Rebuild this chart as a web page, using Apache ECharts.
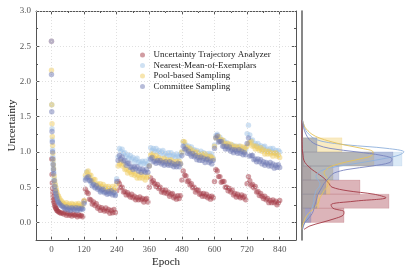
<!DOCTYPE html>
<html><head><meta charset="utf-8">
<script src="https://cdn.jsdelivr.net/npm/echarts@6/dist/echarts.min.js"></script>
<style>html,body{margin:0;padding:0;background:#fff}#c{width:415px;height:273px}</style>
</head><body><div id="c"></div>
<script>
const seriesNames = ['Uncertainty Trajectory Analyzer','Nearest-Mean-of-Exemplars','Pool-based Sampling','Committee Sampling'];
const epochs = [0,1,2,3,4,5,6,7,8,10,12,14,16,18,20,23,26,30,35,40,45,50,55,60,65,70,75,80,85,90,95,100,105,110,115,
120,125,130,135,140,145,150,155,160,165,170,175,180,185,190,195,200,205,210,215,220,225,230,235,
240,245,250,255,260,265,270,275,280,285,290,295,300,305,310,315,320,325,330,335,340,345,350,355,
360,365,370,375,380,385,390,395,400,405,410,415,420,425,430,435,440,445,450,455,460,465,470,475,
480,485,490,495,500,505,510,515,520,525,530,535,540,545,550,555,560,565,570,575,580,585,590,595,
600,605,610,615,620,625,630,635,640,645,650,655,660,665,670,675,680,685,690,695,700,705,710,715,
720,725,730,735,740,745,750,755,760,765,770,775,780,785,790,795,800,805,810,815,820,825,830,835,840];
const uta = [2.57,0.90,0.68,0.56,0.48,0.42,0.37,0.33,0.30,0.27,0.24,0.22,0.20,0.19,0.17,0.16,0.15,0.14,0.13,0.135,0.12,0.14,0.10,0.13,0.10,0.12,0.09,0.12,0.10,0.11,0.08,0.11,0.09,0.10,0.08,
0.30,0.47,0.43,0.41,0.33,0.32,0.26,0.29,0.24,0.265,0.20,0.22,0.17,0.21,0.185,0.16,0.205,0.16,0.185,0.13,0.17,0.135,0.185,0.14,
0.45,0.58,0.55,0.49,0.50,0.43,0.44,0.39,0.42,0.39,0.36,0.40,0.35,0.37,0.32,0.35,0.32,0.36,0.32,0.34,0.29,0.325,0.34,0.29,
0.50,0.63,0.57,0.59,0.55,0.51,0.54,0.48,0.50,0.43,0.46,0.42,0.46,0.41,0.43,0.37,0.40,0.41,0.35,0.37,0.33,0.38,0.34,0.38,
0.60,0.73,0.67,0.66,0.58,0.59,0.53,0.55,0.49,0.50,0.43,0.46,0.46,0.40,0.41,0.37,0.41,0.37,0.40,0.35,0.37,0.33,0.37,0.35,
0.58,0.75,0.73,0.65,0.65,0.57,0.58,0.58,0.50,0.50,0.45,0.48,0.43,0.46,0.39,0.41,0.36,0.40,0.37,0.35,0.39,0.35,0.37,0.32,
0.55,0.65,0.59,0.52,0.54,0.49,0.51,0.43,0.44,0.38,0.41,0.37,0.34,0.37,0.32,0.34,0.28,0.31,0.28,0.32,0.28,0.30,0.25,0.28,0.31];
const nme = [2.57,1.67,1.33,1.17,1.03,0.93,0.85,0.78,0.72,0.62,0.55,0.49,0.44,0.40,0.37,0.33,0.31,0.28,0.27,0.25,0.24,0.22,0.20,0.23,0.21,0.19,0.22,0.20,0.23,0.21,0.19,0.22,0.20,0.22,0.19,
0.29,0.63,0.72,0.64,0.64,0.57,0.59,0.55,0.51,0.54,0.49,0.51,0.45,0.48,0.44,0.49,0.44,0.47,0.41,0.45,0.47,0.42,0.43,0.40,
0.62,0.93,1.05,1.01,1.04,0.98,0.99,0.93,0.96,0.91,0.95,0.90,0.92,0.86,0.89,0.91,0.85,0.86,0.83,0.87,0.84,0.87,0.82,0.84,
0.90,1.06,1.02,1.05,1.01,1.05,1.00,1.02,0.97,1.00,1.02,0.96,0.98,0.94,0.99,0.95,0.99,0.94,0.96,0.92,0.97,0.94,0.92,0.97,
1.00,1.14,1.10,1.10,1.05,1.08,1.04,1.07,1.01,1.03,0.98,1.02,0.99,0.97,1.01,0.96,0.99,0.93,0.97,0.94,0.98,0.94,0.97,0.91,
1.10,1.23,1.25,1.18,1.21,1.17,1.13,1.16,1.11,1.13,1.07,1.10,1.06,1.10,1.06,1.08,1.03,1.06,1.08,1.03,1.04,1.01,1.06,1.03,
1.26,1.38,1.24,1.16,1.17,1.10,1.12,1.08,1.12,1.07,1.09,1.03,1.07,1.08,1.02,1.04,1.00,1.05,1.01,1.05,0.99,1.02,0.97,1.02,1.00];
const pool = [2.16,1.67,1.40,1.22,1.09,0.98,0.89,0.82,0.76,0.66,0.59,0.54,0.50,0.46,0.43,0.39,0.37,0.34,0.31,0.29,0.27,0.25,0.28,0.24,0.26,0.23,0.27,0.25,0.22,0.26,0.24,0.27,0.23,0.25,0.24,
0.31,0.67,0.71,0.73,0.67,0.67,0.59,0.61,0.61,0.54,0.55,0.51,0.55,0.51,0.54,0.48,0.51,0.46,0.51,0.48,0.46,0.51,0.46,0.49,
0.55,0.80,0.83,0.86,0.80,0.82,0.75,0.76,0.70,0.74,0.71,0.68,0.72,0.67,0.69,0.63,0.67,0.63,0.68,0.63,0.66,0.60,0.64,0.66,
0.80,0.96,0.97,0.94,0.91,0.95,0.90,0.92,0.87,0.90,0.87,0.91,0.87,0.89,0.84,0.88,0.89,0.84,0.86,0.82,0.87,0.84,0.87,0.83,
1.00,1.15,1.14,1.06,1.07,1.02,1.05,1.00,1.02,0.96,0.99,1.00,0.94,0.96,0.92,0.97,0.93,0.97,0.91,0.94,0.90,0.94,0.92,0.90,
1.08,1.20,1.21,1.22,1.15,1.17,1.17,1.11,1.12,1.08,1.12,1.08,1.11,1.06,1.08,1.04,1.08,1.06,1.04,1.08,1.04,1.07,1.01,1.06,
1.08,1.12,1.13,1.15,1.08,1.09,1.04,1.08,1.05,1.02,1.06,1.01,1.03,0.97,1.01,0.97,1.01,0.97,0.99,0.94,0.98,0.99,0.94,0.96,0.92];
const committee = [2.10,1.57,1.29,1.14,1.00,0.90,0.82,0.75,0.69,0.59,0.51,0.45,0.41,0.37,0.34,0.30,0.28,0.26,0.24,0.23,0.21,0.19,0.22,0.18,0.20,0.17,0.21,0.19,0.18,0.21,0.17,0.20,0.18,0.20,0.19,
0.27,0.60,0.63,0.65,0.59,0.59,0.52,0.54,0.49,0.52,0.47,0.49,0.43,0.46,0.47,0.42,0.43,0.40,0.44,0.41,0.45,0.39,0.42,0.38,
0.58,0.88,0.95,0.90,0.93,0.87,0.88,0.81,0.84,0.84,0.78,0.79,0.75,0.79,0.76,0.79,0.73,0.76,0.71,0.76,0.73,0.71,0.75,0.71,
0.80,0.90,0.92,0.86,0.87,0.84,0.88,0.85,0.88,0.83,0.85,0.81,0.86,0.83,0.81,0.86,0.81,0.84,0.79,0.82,0.79,0.84,0.79,0.83,
0.95,1.08,1.04,1.04,0.98,1.01,0.97,0.94,0.98,0.93,0.95,0.89,0.92,0.88,0.93,0.88,0.91,0.85,0.89,0.90,0.85,0.87,0.83,0.88,
1.05,1.20,1.23,1.14,1.15,1.15,1.08,1.08,1.04,1.08,1.04,1.07,1.01,1.03,0.99,1.03,1.01,0.98,1.03,0.98,1.01,0.96,0.99,0.96,
1.12,1.20,0.94,0.95,0.95,0.89,0.90,0.86,0.90,0.86,0.89,0.83,0.86,0.81,0.85,0.83,0.80,0.85,0.80,0.83,0.77,0.81,0.78,0.82,0.78];

const xTicks = [0,120,240,360,480,600,720,840];
const xMinorTicks = [60,180,300,420,540,660,780];
const yTicks = [0,0.5,1,1.5,2,2.5,3];
const yMinorTicks = [0.25,0.75,1.25,1.75,2.25,2.75];

const histEdges = [0,0.2,0.4,0.6,0.8,1.0,1.2];
const histUta = [42,87,58,9,2,0];
const histNme = [7,12,22,31,100,15];
const histPool = [3,17,28,31,72,40];
const histCommittee = [9,15,24,37,91,15];

const kdeY = [-0.1,-0.05,0,0.05,0.1,0.15,0.2,0.25,0.3,0.35,0.4,0.45,0.5,0.55,0.6,0.65,0.7,0.75,0.8,0.85,0.9,0.95,1.0,1.05,1.1,1.15,1.2,1.25,1.3,1.35,1.4,1.45];
const kdeUta = [2,8,20,32,41,42,31,29,52,84,72,45,30,27,24,20,15,10,6,3,1.5,1,0.5,0.3,0.2,0.1,0,0,0,0,0,0];
const kdeNme = [0.5,1,3,5,7,9,10,11,12,12,13,14,17,18,16,14,16,22,38,60,80,96,102,85,45,20,11,7,4,2.5,1.5,0.5];
const kdePool = [0,0.5,1.5,3,5,8,12,15,17,18,20,22,25,26,26,24,22,24,30,42,58,70,71,60,42,28,17,10,6,3,1.5,0.5];
const kdeCommittee = [0.5,1.5,3,6,9,11,12,13,14,15,16,18,20,22,25,28,32,45,70,88,90,80,55,28,15,9,6,4,2.5,1.5,1,0.5];

const colors = ['#a33a46','#9fc4e8','#efcb5e','#6f79b3'];
const lineColors = ['#a33a46','#8fb0dc','#e6c35a','#7a84bf'];
const FONT = 'Liberation Serif';
const AX = '#555';

const chart = echarts.init(document.getElementById('c'), null, {renderer:'canvas'});

const G = {left:36, top:11, width:260, height:229, containLabel:false, outerBoundsMode:'none'};
const H = {left:302, top:11, width:104, height:229, containLabel:false, outerBoundsMode:'none'};
const X = {min:-57, max:900};
const Y = {min:-0.25, max:3.0};

function axLine(show, color, width){ return {show:show, onZero:false, lineStyle:{color:color||AX, width:width||1}}; }

const xAxes = [
  {gridIndex:0, type:'value', position:'bottom', min:X.min, max:X.max,
   name:'Epoch', nameLocation:'middle', nameGap:17, nameMoveOverlap:false,
   nameTextStyle:{fontFamily:FONT, fontSize:11, color:'#222'},
   axisLine:axLine(true),
   axisTick:{inside:true, length:4, customValues:xTicks, lineStyle:{color:AX}},
   axisLabel:{customValues:xTicks, fontFamily:FONT, fontSize:9, color:'#555', margin:5},
   splitLine:{show:false}},
  {gridIndex:0, type:'value', position:'top', min:X.min, max:X.max,
   axisLine:axLine(true),
   axisTick:{inside:true, length:4, customValues:xTicks, lineStyle:{color:AX}},
   axisLabel:{show:false}, splitLine:{show:false}},
  {gridIndex:1, type:'value', position:'bottom', min:X.min, max:X.max,
   axisLine:axLine(false),
   axisTick:{inside:true, length:2, customValues:xMinorTicks, lineStyle:{color:AX}},
   axisLabel:{show:false}, splitLine:{show:false}},
  {gridIndex:1, type:'value', position:'top', min:X.min, max:X.max,
   axisLine:axLine(false),
   axisTick:{inside:true, length:2, customValues:xMinorTicks, lineStyle:{color:AX}},
   axisLabel:{show:false}, splitLine:{show:false}},
  {gridIndex:2, type:'value', min:0, max:104, show:false, axisLine:{onZero:false}}
];
const yAxes = [
  {gridIndex:0, type:'value', position:'left', min:Y.min, max:Y.max,
   name:'Uncertainty', nameLocation:'middle', nameGap:18, nameRotate:90, nameMoveOverlap:false,
   nameTextStyle:{fontFamily:FONT, fontSize:11, color:'#222'},
   axisLine:axLine(true),
   axisTick:{show:true, inside:true, length:4, customValues:yTicks, lineStyle:{color:AX}},
   axisLabel:{customValues:yTicks, formatter:v=>v.toFixed(1), fontFamily:FONT, fontSize:9, color:'#555', margin:5},
   splitLine:{show:false}},
  {gridIndex:0, type:'value', position:'right', min:Y.min, max:Y.max,
   axisLine:axLine(true),
   axisTick:{show:true, inside:true, length:4, customValues:yTicks, lineStyle:{color:AX}},
   axisLabel:{show:false}, splitLine:{show:false}},
  {gridIndex:1, type:'value', position:'left', min:Y.min, max:Y.max,
   axisLine:axLine(false),
   axisTick:{show:true, inside:true, length:2, customValues:yMinorTicks, lineStyle:{color:AX}},
   axisLabel:{show:false}, splitLine:{show:false}},
  {gridIndex:1, type:'value', position:'right', min:Y.min, max:Y.max,
   axisLine:axLine(false),
   axisTick:{show:true, inside:true, length:2, customValues:yMinorTicks, lineStyle:{color:AX}},
   axisLabel:{show:false}, splitLine:{show:false}},
  {gridIndex:2, type:'value', min:Y.min, max:Y.max,
   axisLine:axLine(true, '#6a6a6a', 1.6),
   axisTick:{show:false}, axisLabel:{show:false}, splitLine:{show:false}}
];

const values = [uta, nme, pool, committee];
const hists = [histUta, histNme, histPool, histCommittee];
const kdes = [kdeUta, kdeNme, kdePool, kdeCommittee];

const series = [];
series.push({type:'scatter', xAxisIndex:0, yAxisIndex:0, data:[], silent:true, z:1,
  markLine:{silent:true, symbol:'none', label:{show:false}, animation:false,
    lineStyle:{type:[1,2], color:'#d8d8d8', width:0.8},
    data: yTicks.map(v=>({yAxis:v})).concat(xTicks.map(v=>({xAxis:v})))}});

values.forEach((arr, k) => {
  series.push({name:seriesNames[k], type:'scatter', xAxisIndex:0, yAxisIndex:0, z:2+k,
    symbolSize:5.4, itemStyle:{color:colors[k], opacity:0.5},
    data: epochs.map((e,i)=>[e, arr[i]])});
});

hists.forEach((h, k) => {
  series.push({name:'hist'+k, type:'custom', xAxisIndex:4, yAxisIndex:4, z:2,
    data: h.map((c,i)=>[histEdges[i], histEdges[i+1], c]),
    encode:{x:2, y:[0,1]},
    renderItem:function(params, api){
      const y0 = api.value(0), y1 = api.value(1), c = api.value(2);
      const p0 = api.coord([0, y1]);
      const p1 = api.coord([c, y0]);
      return {type:'rect', shape:{x:p0[0], y:p0[1], width:p1[0]-p0[0], height:p1[1]-p0[1]},
        style:{fill:colors[k], opacity:0.38, stroke:colors[k], lineWidth:0.4}};
    }});
});

kdes.forEach((d, k) => {
  series.push({name:'kde'+k, type:'line', xAxisIndex:4, yAxisIndex:4, z:5, smooth:0.35,
    showSymbol:false, symbol:'none',
    lineStyle:{color:lineColors[k], width:1, opacity:0.9},
    data: kdeY.map((y,i)=>[d[i], y])});
});

chart.setOption({
  animation:false,
  backgroundColor:'#fff',
  textStyle:{fontFamily:FONT},
  grid:[Object.assign({}, G), Object.assign({}, G), Object.assign({}, H)],
  xAxis:xAxes, yAxis:yAxes,
  legend:{data:seriesNames, orient:'vertical', left:135, top:45, icon:'circle',
    itemWidth:12, itemHeight:5, itemGap:0.5,
    textStyle:{fontFamily:FONT, fontSize:9, color:'#222', lineHeight:10}},
  series:series
});
</script></body></html>
